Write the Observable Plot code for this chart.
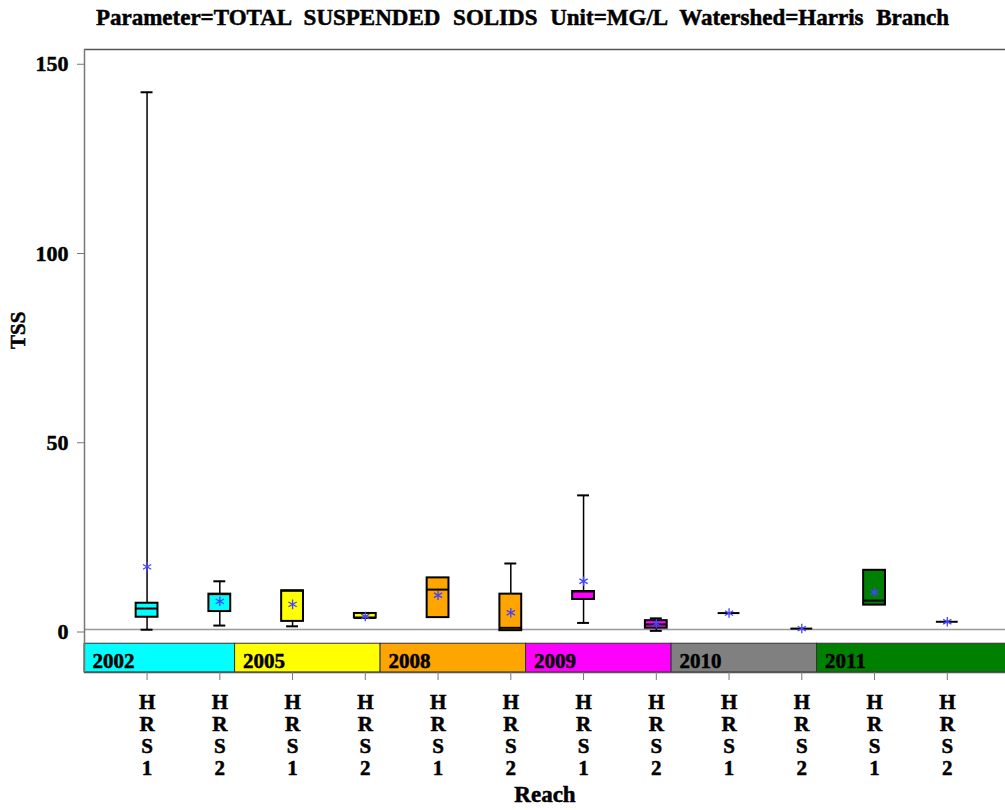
<!DOCTYPE html>
<html><head><meta charset="utf-8">
<script src="https://cdn.jsdelivr.net/npm/d3@7"></script>
<script src="https://cdn.jsdelivr.net/npm/@observablehq/plot@0.6"></script>
<style>
body{margin:0;background:#fff;}
#title{height:44px;font-family:"Liberation Serif",serif;font-weight:bold;font-size:23px;text-align:center;line-height:36px;padding-left:40px;box-sizing:border-box;white-space:pre;word-spacing:7px;-webkit-text-stroke:0.5px black;}
svg text{stroke:black;stroke-width:0.5px;}
</style></head><body>
<div id="title">Parameter=TOTAL SUSPENDED SOLIDS Unit=MG/L Watershed=Harris Branch</div>
<div id="chart"></div>
<script>
const reach  = ["HRS1","HRS2","HRS1","HRS2","HRS1","HRS2","HRS1","HRS2","HRS1","HRS2","HRS1","HRS2"];
const year   = ["2002","2002","2005","2005","2008","2008","2009","2009","2010","2010","2011","2011"];
const minV   = [0.6, 1.7, 1.5, 3.7, 3.8, 0.35, 2.4, 0.3, 5.0, 0.9, 7.1, 2.7];
const q1     = [3.9, 5.4, 2.8, 3.7, 3.8, 0.35, 8.6, 1.0, 5.0, 0.9, 7.1, 2.7];
const median = [6.2, 10.0, 10.9, 3.7, 11.2, 1.1, 10.7, 2.0, 5.0, 0.9, 8.3, 2.7];
const q3     = [7.6, 10.0, 10.9, 4.9, 14.3, 10.0, 10.7, 3.0, 5.0, 0.9, 16.3, 2.7];
const maxV   = [142.6, 13.4, 10.9, 4.9, 14.3, 18.1, 36.1, 3.6, 5.0, 0.9, 16.3, 2.7];
const meanV  = [17.2, 8.1, 7.3, 4.1, 9.7, 5.1, 13.4, 2.2, 5.0, 0.9, 10.5, 2.7];
const yearList   = ["2002","2005","2008","2009","2010","2011"];
const yearColors = ["#00ffff","#ffff00","#ffa500","#ff00ff","#808080","#008000"];
const yTicks = [0, 50, 100, 150];
const refLine = 0.66;

const data = reach.map((r, i) => ({i, reach: r, year: year[i], min: minV[i], q1: q1[i], median: median[i], q3: q3[i], max: maxV[i], mean: meanV[i]}));

const xDom = [-0.86, 11.8];
const yDom = [-10.7, 153.9];
const bandTop = -3.1, bandBot = -10.7;
const bands = yearList.map((y, k) => {
  const first = year.indexOf(y);
  return {year: y,
    x1: k === 0 ? xDom[0] : first - 0.79,
    x2: k === yearList.length - 1 ? xDom[1] + 0.2 : first + 1.21};
});
const hw = 0.15, cw = 0.082;
const font = '"Liberation Serif",serif';

const chart = Plot.plot({
  width: 1005, height: 766,
  marginTop: 5, marginBottom: 138, marginLeft: 84, marginRight: 0,
  style: {fontFamily: font, fontWeight: "bold", background: "#fff", overflow: "visible"},
  x: {type: "linear", domain: xDom},
  y: {domain: yDom},
  color: {type: "ordinal", domain: yearList, range: yearColors},
  marks: [
    Plot.ruleY([refLine], {stroke: "#999", strokeWidth: 1.5}),
    Plot.ruleX(data.filter(d => d.max > d.q3), {x: "i", y1: "q3", y2: "max", stroke: "black", strokeWidth: 1.5}),
    Plot.ruleX(data.filter(d => d.min < d.q1), {x: "i", y1: "min", y2: "q1", stroke: "black", strokeWidth: 1.5}),
    Plot.ruleY(data.filter(d => d.max > d.q3), {y: "max", x1: d => d.i - cw, x2: d => d.i + cw, stroke: "black", strokeWidth: 2}),
    Plot.ruleY(data.filter(d => d.min < d.q1), {y: "min", x1: d => d.i - cw, x2: d => d.i + cw, stroke: "black", strokeWidth: 2}),
    Plot.rect(data.filter(d => d.q3 > d.q1), {x1: d => d.i - hw, x2: d => d.i + hw, y1: "q1", y2: "q3", fill: "year", stroke: "black", strokeWidth: 2}),
    Plot.ruleY(data, {y: "median", x1: d => d.i - hw, x2: d => d.i + hw, stroke: "black", strokeWidth: 2}),
    Plot.dot(data, {x: "i", y: "mean", symbol: "asterisk", r: 4.5, stroke: "#4444ff", strokeWidth: 1.3}),
    Plot.rect(bands, {x1: "x1", x2: "x2", y1: () => bandTop, y2: () => bandBot, fill: "year", stroke: "#333", strokeWidth: 1}),
    Plot.text(bands, {x: "x1", y: () => (bandTop + bandBot) / 2, text: "year", textAnchor: "start", dx: 8, dy: 3, fontSize: 21, fill: "black"}),
    Plot.ruleY([yDom[1]], {stroke: "#555", strokeWidth: 1.5}),
    Plot.ruleY([yDom[0]], {stroke: "#555", strokeWidth: 1.5}),
    Plot.ruleX([xDom[0]], {stroke: "#777", strokeWidth: 1.5}),
    Plot.axisY({ticks: yTicks, tickSize: 7, tickPadding: 9, fontSize: 22, label: null, stroke: "#777"}),
    Plot.axisX({ticks: data.map(d => d.i), tickSize: 8, tickFormat: () => "", label: null, stroke: "#777"}),
    Plot.text(data, {x: "i", frameAnchor: "bottom", text: d => d.reach.split("").join("\n"), lineAnchor: "top", dy: 21, lineHeight: 1.05, fontSize: 21, fill: "black"}),
    Plot.text(["Reach"], {frameAnchor: "bottom", dy: 129, fontSize: 23, fill: "black"}),
    Plot.text(["TSS"], {frameAnchor: "left", dx: -66, dy: -12, rotate: -90, fontSize: 21, fill: "black"})
  ]
});
document.getElementById("chart").append(chart);
</script>
</body></html>
